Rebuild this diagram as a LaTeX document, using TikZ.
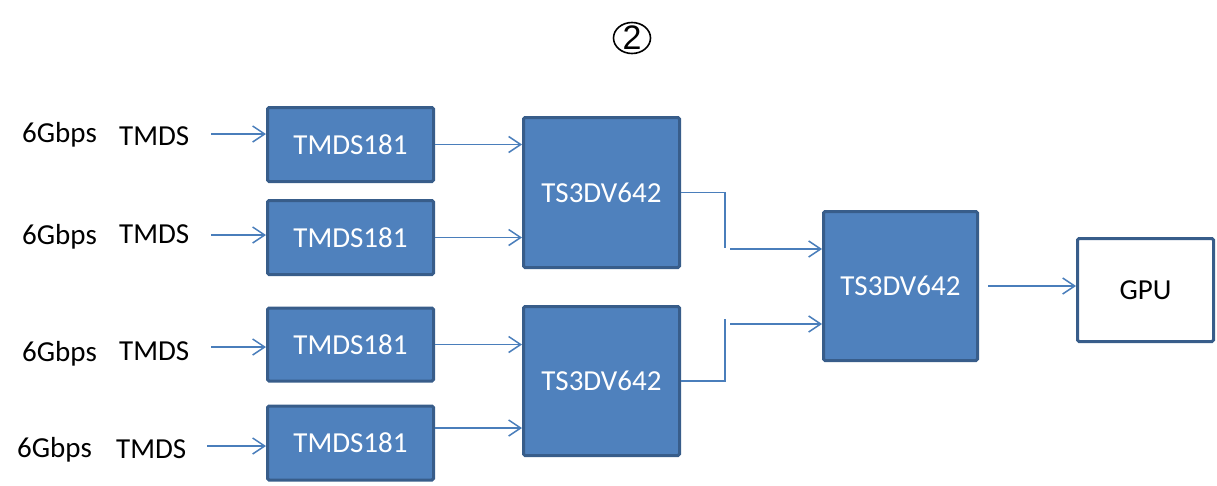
\documentclass[tikz,border=0pt]{standalone}
\usepackage{fontspec}
\setmainfont{Carlito}
\newfontfamily\numfont{Liberation Sans}
\usetikzlibrary{arrows.meta,calc}
\definecolor{boxfill}{HTML}{4F81BD}
\definecolor{boxline}{HTML}{385D8A}
\definecolor{arrcol}{HTML}{4A7EBB}
\tikzset{
  chip/.style={draw=boxline, fill=boxfill, line width=3pt, rounded corners=1.5pt, inner sep=0pt,
    text=white, font=\fontsize{29}{32}\selectfont},
  gpubox/.style={draw=boxline, fill=white, line width=3pt, rounded corners=1.5pt, inner sep=0pt,
    text=black, font=\fontsize{29}{32}\selectfont},
  lbl/.style={inner sep=0pt, anchor=base west, font=\fontsize{29}{32}\selectfont},
  arr/.style={draw=arrcol, line width=1.5pt, -{Straight Barb[length=12pt,width=16pt,line width=1.5pt]}},
  wire/.style={draw=arrcol, line width=1.5pt},
}
\begin{document}
\begin{tikzpicture}[x=1pt,y=-1pt]
\useasboundingbox (0,0) rectangle (1217,485);
% circled number
\node (num) [inner sep=0pt, font=\numfont\fontsize{34}{36}\selectfont] at (632,38) {2};
\draw[line width=1.6pt] (num.center) ellipse [x radius=18.5, y radius=15.5];
% TMDS181 boxes
\node (t1) [chip, minimum width=166, minimum height=74] at (350.5,144.5) {TMDS181};
\node (t2) [chip, minimum width=166, minimum height=74] at (350.5,237.5) {TMDS181};
\node (t3) [chip, minimum width=166, minimum height=73] at (350.5,344.5) {TMDS181};
\node (t4) [chip, minimum width=166, minimum height=74] at (350.5,443) {TMDS181};
% TS3DV642 boxes
\node (s1) [chip, minimum width=156, minimum height=150] at (601.5,192.5) {TS3DV642};
\node (s2) [chip, minimum width=156, minimum height=149] at (601.5,381) {TS3DV642};
\node (s3) [chip, minimum width=154, minimum height=149] at (900.5,286) {TS3DV642};
\node (gpu) [gpubox, minimum width=136, minimum height=103] at (1145.5,290) {GPU};
% labels
\node (g1) [lbl] at (22,142) {6Gbps};
\node (m1) [lbl] at (119,145) {TMDS};
\node (g2) [lbl] at (22,244) {6Gbps};
\node (m2) [lbl] at (119,243) {TMDS};
\node (g3) [lbl] at (22,361) {6Gbps};
\node (m3) [lbl] at (119,360) {TMDS};
\node (g4) [lbl] at (17,457) {6Gbps};
\node (m4) [lbl] at (116,458) {TMDS};
% input arrows
\coordinate (i1) at (211,134);
\coordinate (i2) at (211,235);
\coordinate (i3) at (211,347);
\coordinate (i4) at (207,446);
\draw[arr] (i1) -- (i1 -| t1.west);
\draw[arr] (i2) -- (i2 -| t2.west);
\draw[arr] (i3) -- (i3 -| t3.west);
\draw[arr] (i4) -- (i4 -| t4.west);
% TMDS181 -> TS3DV642
\draw[arr] (t1.east) -- (t1.east -| s1.west);
\draw[arr] (t2.east) -- (t2.east -| s1.west);
\draw[arr] (t3.east) -- (t3.east -| s2.west);
\coordinate (o4) at (t4.east |- 0,428);
\draw[arr] (o4) -- (o4 -| s2.west);
% TS3DV642 outputs
\coordinate (b1) at (725,248);
\coordinate (b2) at (725,319);
\draw[wire] (s1.east) -| (b1);
\draw[wire] (s2.east) -| (b2);
\coordinate (a1) at (730,249);
\coordinate (a2) at (730,324);
\draw[arr] (a1) -- (a1 -| s3.west);
\draw[arr] (a2) -- (a2 -| s3.west);
% to GPU
\coordinate (a3) at (988,286);
\draw[arr] (a3) -- (a3 -| gpu.west);
\end{tikzpicture}
\end{document}
